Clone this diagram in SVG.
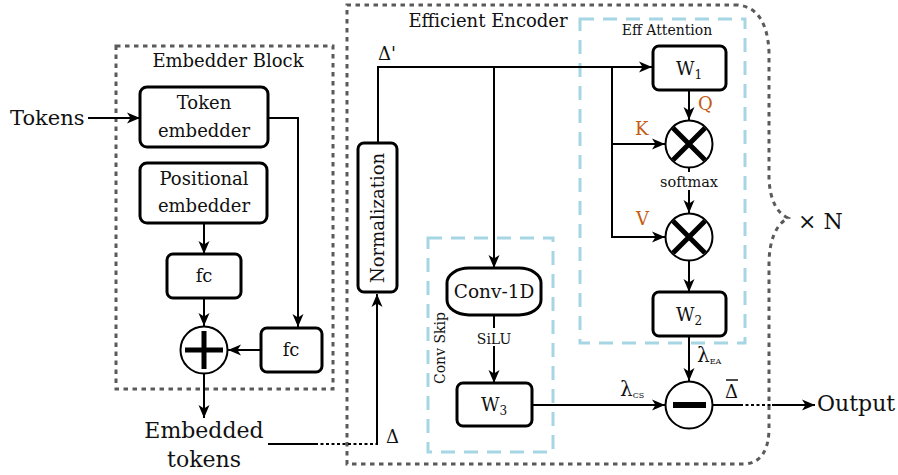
<svg xmlns="http://www.w3.org/2000/svg" width="898" height="475" viewBox="0 0 898 475">
<style>
text{font-family:"DejaVu Serif","Liberation Serif",serif;fill:#111}
.box{fill:#fff;stroke:#000;stroke-width:3}
.grp{fill:none;stroke:#5a5a5a;stroke-width:3;stroke-dasharray:4.5 4.5}
.blue{fill:none;stroke:#a6d6e3;stroke-width:3;stroke-dasharray:14 9}
.ln{fill:none;stroke:#000;stroke-width:2}
.arr{marker-end:url(#ah)}
.dot{fill:none;stroke:#000;stroke-width:2;stroke-dasharray:3 2.5}
.op{fill:#fff;stroke:#000;stroke-width:2}
.sym{stroke:#000;stroke-width:5;fill:none}
.or{fill:#c55a11}
</style>
<defs>
<marker id="ah" markerUnits="userSpaceOnUse" markerWidth="14" markerHeight="12" refX="13" refY="6" orient="auto">
<path d="M0,0.5 L13,6 L0,11.5 L3.5,6 Z" fill="#000"/>
</marker>
</defs>

<g id="groups">
<rect x="116" y="46" width="217" height="343" class="grp"/>
<path d="M738,5 H347 V464 H745 Q768,462 769,430 V262 Q770,228 788,218 Q771,210 769,180 V52 Q767,8 738,5 Z" class="grp"/>
<rect x="580" y="19" width="165" height="324" class="blue"/>
<rect x="428" y="238" width="125" height="214" class="blue"/>
<text x="228" y="67" font-size="18" text-anchor="middle">Embedder Block</text>
<text x="488" y="27" font-size="18" text-anchor="middle">Efficient Encoder</text>
<text x="667" y="35" font-size="14" text-anchor="middle">Eff Attention</text>
<text transform="translate(445,348) rotate(-90)" font-size="14" text-anchor="middle">Conv Skip</text>
<text x="798" y="229" font-size="22">× N</text>
</g>

<g id="connectors">
<line x1="88" y1="118" x2="140" y2="118" class="ln arr"/>
<polyline points="268,118 298,118 298,327" class="ln arr"/>
<line x1="204" y1="223" x2="204" y2="254" class="ln arr"/>
<line x1="204" y1="298" x2="204" y2="326" class="ln arr"/>
<line x1="261" y1="350" x2="228" y2="350" class="ln arr"/>
<line x1="204" y1="374" x2="204" y2="418" class="ln arr"/>
<line x1="268" y1="444" x2="315" y2="444" class="ln"/>
<line x1="315" y1="444" x2="377" y2="444" class="dot"/>
<line x1="377" y1="445" x2="377" y2="294" class="ln arr"/>
<polyline points="378,143 378,67 652,67" class="ln arr"/>
<line x1="494" y1="67" x2="494" y2="268" class="ln arr"/>
<line x1="612" y1="67" x2="612" y2="237" class="ln"/>
<line x1="612" y1="144" x2="665" y2="144" class="ln arr"/>
<line x1="611" y1="237" x2="665" y2="237" class="ln arr"/>
<line x1="689" y1="90" x2="689" y2="120" class="ln arr"/>
<line x1="689" y1="168" x2="689" y2="213" class="ln arr"/>
<line x1="689" y1="261" x2="689" y2="292" class="ln arr"/>
<line x1="689" y1="336" x2="689" y2="381" class="ln arr"/>
<line x1="494" y1="315" x2="494" y2="383" class="ln arr"/>
<line x1="532" y1="405" x2="665" y2="405" class="ln arr"/>
<line x1="713" y1="405" x2="740" y2="405" class="ln"/>
<line x1="740" y1="405" x2="772" y2="405" class="dot"/>
<line x1="772" y1="405" x2="815" y2="405" class="ln arr"/>
<rect x="473" y="328" width="42" height="18" fill="#fff"/>
<rect x="657" y="172" width="64" height="18" fill="#fff"/>
<text x="494" y="344" font-size="14" text-anchor="middle">SiLU</text>
<text x="689" y="187" font-size="14.5" text-anchor="middle">softmax</text>
<text x="378" y="60" font-size="18">Δ'</text>
<text x="386" y="443" font-size="18">Δ</text>
<text x="698" y="110" font-size="18" class="or">Q</text>
<text x="635" y="135" font-size="18" class="or">K</text>
<text x="636" y="225" font-size="18" class="or">V</text>
<text x="697" y="362" font-size="20">λ<tspan font-size="8" dy="2">EA</tspan></text>
<text x="620" y="396" font-size="20">λ<tspan font-size="8" dy="2">CS</tspan></text>
<text x="725" y="398" font-size="18">Δ</text>
<line x1="726" y1="380" x2="738" y2="380" stroke="#111" stroke-width="1.5"/>
</g>

<g id="tokens"><text x="10" y="125" font-size="21">Tokens</text></g>
<g id="token-embedder">
<rect x="140" y="87" width="128" height="60" rx="7" class="box"/>
<text x="204" y="109" font-size="18" text-anchor="middle">Token</text>
<text x="204" y="137" font-size="18" text-anchor="middle">embedder</text>
</g>
<g id="positional-embedder">
<rect x="140" y="163" width="127" height="60" rx="7" class="box"/>
<text x="204" y="185" font-size="18" text-anchor="middle">Positional</text>
<text x="204" y="212" font-size="18" text-anchor="middle">embedder</text>
</g>
<g id="fc-pos">
<rect x="167" y="254" width="74" height="44" rx="6" class="box"/>
<text x="204" y="282" font-size="18" text-anchor="middle">fc</text>
</g>
<g id="fc-tok">
<rect x="261" y="328" width="61" height="44" rx="6" class="box"/>
<text x="291" y="356" font-size="18" text-anchor="middle">fc</text>
</g>
<g id="add">
<circle cx="204" cy="350" r="23.5" class="op"/>
<path d="M185,350 H223 M204,331 V369" class="sym"/>
</g>
<g id="embedded-tokens">
<text x="204" y="438" font-size="22" text-anchor="middle">Embedded</text>
<text x="204" y="467" font-size="22" text-anchor="middle">tokens</text>
</g>
<g id="normalization">
<rect x="358" y="143" width="39" height="149" rx="6" class="box"/>
<text transform="translate(384,218) rotate(-90)" font-size="18" text-anchor="middle">Normalization</text>
</g>
<g id="w1">
<rect x="653" y="46" width="73" height="44" rx="6" class="box"/>
<text x="689" y="75" font-size="18" text-anchor="middle">W<tspan font-size="12" dy="4">1</tspan></text>
</g>
<g id="mul1">
<circle cx="689" cy="144" r="23.5" class="op"/>
<path d="M673,128 L705,160 M705,128 L673,160" class="sym"/>
</g>
<g id="mul2">
<circle cx="689" cy="237" r="23.5" class="op"/>
<path d="M673,221 L705,253 M705,221 L673,253" class="sym"/>
</g>
<g id="w2">
<rect x="653" y="292" width="73" height="44" rx="6" class="box"/>
<text x="689" y="321" font-size="18" text-anchor="middle">W<tspan font-size="12" dy="4">2</tspan></text>
</g>
<g id="conv1d">
<rect x="447" y="268" width="94" height="47" rx="22" ry="15" class="box"/>
<text x="494" y="298" font-size="18.5" text-anchor="middle">Conv-1D</text>
</g>
<g id="w3">
<rect x="457" y="383" width="75" height="43" rx="6" class="box"/>
<text x="494" y="411" font-size="18" text-anchor="middle">W<tspan font-size="12" dy="4">3</tspan></text>
</g>
<g id="sub">
<circle cx="689" cy="405" r="23.5" class="op"/>
<rect x="673" y="402" width="33" height="6" fill="#000"/>
</g>
<g id="output"><text x="817" y="411" font-size="22">Output</text></g>
</svg>
